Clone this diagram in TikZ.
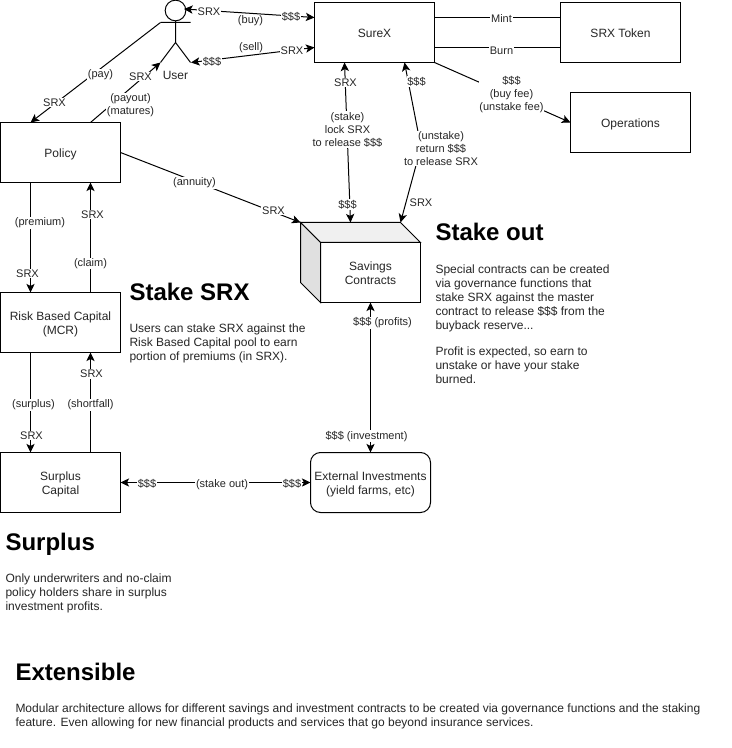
\documentclass[tikz,border=0pt]{standalone}
\usepackage{fontspec}
\setmainfont{Liberation Sans}
\usetikzlibrary{arrows.meta,calc}
\newcommand\bt[1]{\raisebox{-1.3pt}[\height][\depth]{\begin{tabular}{@{}c@{}}#1\end{tabular}}}
\tikzset{
  every path/.style={line width=0.75pt},
  box/.style={draw,fill=white,minimum width=90pt,minimum height=45pt,inner sep=0pt,outer sep=0pt,align=center,font=\fontsize{9}{10.5}\selectfont,text=black!85},
  lbl/.style={fill=white,inner sep=0.6pt,yshift=-1.1pt,align=center,font=\fontsize{8.25}{9.75}\selectfont,text=black!85},
  head/.style={anchor=west,inner sep=0pt,font=\fontsize{18}{21}\bfseries\selectfont},
  para/.style={anchor=north west,inner sep=0pt,yshift=-1.4pt,align=left,font=\fontsize{9}{10.5}\selectfont,text=black!85},
  conn/.style={-{Stealth[length=6.5pt,width=6.2pt,inset=1.6pt]}},
  biconn/.style={{Stealth[length=6.5pt,width=6.2pt,inset=1.6pt]}-{Stealth[length=6.5pt,width=6.2pt,inset=1.6pt]}},
}
\begin{document}
\begin{tikzpicture}[x=0.75pt,y=-0.75pt]
\useasboundingbox (0,0) rectangle (731,748);
\fill[white] (0,0) rectangle (731,748);
% boxes
\node[box] (surex) at (374.5,32.5) {\bt{SureX}};
\node[box] (token) at (620.5,32.5) {\bt{SRX Token}};
\node[box] (ops) at (630.5,122.5) {\bt{Operations}};
\node[box] (policy) at (60.5,152.5) {\bt{Policy}};
\node[box] (risk) at (60.5,322.5) {\bt{Risk Based Capital\\(MCR)}};
\node[box] (surplus) at (60.5,482.5) {\bt{Surplus\\Capital}};
\node[box,rounded corners=7.5pt] (ext) at (370.5,482.5) {\bt{External Investments\\(yield farms, etc)}};
% cuboid
\node[box,minimum width=75pt,minimum height=45pt] (sav) at (370.5,272.5) {\bt{Savings\\Contracts}};
\coordinate (cubetl) at (300.5,222.5);
\coordinate (cubetr) at (400.5,222.5);
\coordinate (cubebl) at (300.5,282.5);
\filldraw[fill=black!6] (cubetl) -- (cubetr) -- (sav.north east) -- (sav.north west) -- cycle;
\filldraw[fill=black!12] (cubetl) -- (sav.north west) -- (sav.south west) -- (cubebl) -- cycle;
% user
\node[circle,draw,fill=white,minimum size=15.5pt,inner sep=0pt,outer sep=0pt] (uhead) at (175.5,10.5) {};
\coordinate (uhip) at (175.5,42.5);
\coordinate (uarml) at (160.5,22.5);
\coordinate (uarmr) at (190.5,22.5);
\coordinate (ulegl) at (160.5,62.5);
\coordinate (ulegr) at (190.5,62.5);
\draw (uhead.south) -- (uhip) (uarml) -- (uarmr) (ulegl) -- (uhip) -- (ulegr);
\node[inner sep=0pt,font=\fontsize{9}{10.5}\selectfont,text=black!85] (ulabel) at (175.5,75.5) {User};
% connectors
\coordinate (cubetop) at (350.5,222.5);
\coordinate (ubuy) at (184,9);
\coordinate (usell) at (191,62.5);
\coordinate (unst) at (421,147);
\draw[biconn] (ubuy) -- ($(surex.north west)!0.25!(surex.south west)$);
\draw[biconn] (usell) -- ($(surex.north west)!0.75!(surex.south west)$);
\draw[conn] (uarml) -- ($(policy.north west)!0.25!(policy.north east)$);
\draw[conn] ($(policy.north west)!0.75!(policy.north east)$) -- (ulegl);
\draw[biconn] ($(surex.south west)!0.25!(surex.south east)$) -- (cubetop);
\draw[biconn] ($(surex.south west)!0.75!(surex.south east)$) -- (unst) -- (cubetr);
\draw[conn] (surex.south east) -- (ops.west);
\draw ($(surex.north east)!0.25!(surex.south east)$) -- ($(token.north west)!0.25!(token.south west)$);
\draw ($(surex.north east)!0.75!(surex.south east)$) -- ($(token.north west)!0.75!(token.south west)$);
\draw[conn] (policy.east) -- (cubetl);
\draw[conn] ($(policy.south west)!0.25!(policy.south east)$) -- ($(risk.north west)!0.25!(risk.north east)$);
\draw[conn] ($(risk.north west)!0.75!(risk.north east)$) -- ($(policy.south west)!0.75!(policy.south east)$);
\draw[conn] ($(risk.south west)!0.25!(risk.south east)$) -- ($(surplus.north west)!0.25!(surplus.north east)$);
\draw[conn] ($(surplus.north west)!0.75!(surplus.north east)$) -- ($(risk.south west)!0.75!(risk.south east)$);
\draw[biconn] (surplus.east) -- (ext.west);
\draw[biconn] (sav.south) -- (ext.north);
% labels
\node[lbl] (l1) at (209,10) {SRX};
\node[lbl] (l2) at (250.5,19.5) {(buy)};
\node[lbl] (l3) at (291,15.5) {\$\$\$};
\node[lbl] (l4) at (212,60.5) {\$\$\$};
\node[lbl] (l5) at (251,46) {(sell)};
\node[lbl] (l6) at (292,49) {SRX};
\node[lbl] (l7) at (100.5,73) {(pay)};
\node[lbl] (l8) at (54.5,101) {SRX};
\node[lbl] (l9) at (140.5,75) {SRX};
\node[lbl] (l10) at (130.5,103.5) {(payout)\\(matures)};
\node[lbl] (l11) at (345.5,81) {SRX};
\node[lbl] (l12) at (347.5,128) {(stake)\\lock SRX\\to release \$\$\$};
\node[lbl] (l13) at (347.5,203) {\$\$\$};
\node[lbl] (l14) at (416.5,80) {\$\$\$};
\node[lbl] (l15) at (441,147) {(unstake)\\return \$\$\$\\to release SRX};
\node[lbl] (l16) at (421,201) {SRX};
\node[lbl] (l17) at (511.5,93) {\$\$\$\\(buy fee)\\(unstake fee)};
\node[lbl] (l18) at (501.5,17.5) {Mint};
\node[lbl] (l19) at (501.5,49) {Burn};
\node[lbl] (l20) at (194.5,181.5) {(annuity)};
\node[lbl] (l21) at (273.5,209) {SRX};
\node[lbl] (l22) at (40,221.5) {(premium)};
\node[lbl] (l23) at (27.5,272) {SRX};
\node[lbl] (l24) at (92.5,213) {SRX};
\node[lbl] (l25) at (90.5,262) {(claim)};
\node[lbl] (l26) at (33.5,403.5) {(surplus)};
\node[lbl] (l27) at (31.5,434) {SRX};
\node[lbl] (l28) at (91.5,372.5) {SRX};
\node[lbl] (l29) at (90.5,403.5) {(shortfall)};
\node[lbl] (l30) at (147,482.5) {\$\$\$};
\node[lbl] (l31) at (222,483) {(stake out)};
\node[lbl] (l32) at (292,482.5) {\$\$\$};
\node[lbl] (l33) at (382.5,321.5) {\$\$\$ (profits)};
\node[lbl] (l34) at (366.5,435) {\$\$\$ (investment)};
% text
\node[head] (h1) at (129,292) {Stake SRX};
\node[head] (h2) at (435,232) {Stake out};
\node[head] (h3) at (5,544) {Surplus};
\node[head] (h4) at (15,672) {Extensible};
\node[para] (p1) at (129,321) {Users can stake SRX against the\\Risk Based Capital pool to earn\\portion of premiums (in SRX).};
\node[para] (p2) at (435,262) {Special contracts can be created\\via governance functions that\\stake SRX against the master\\contract to release \$\$\$ from the\\buyback reserve...\\[9pt]Profit is expected, so earn to\\unstake or have your stake\\burned.};
\node[para] (p3) at (5,571) {Only underwriters and no-claim\\policy holders share in surplus\\investment profits.};
\node[para] (p4) at (15,701) {Modular architecture allows for different savings and investment contracts to be created via governance functions and the staking\\feature. Even allowing for new financial products and services that go beyond insurance services.};
\end{tikzpicture}
\end{document}
